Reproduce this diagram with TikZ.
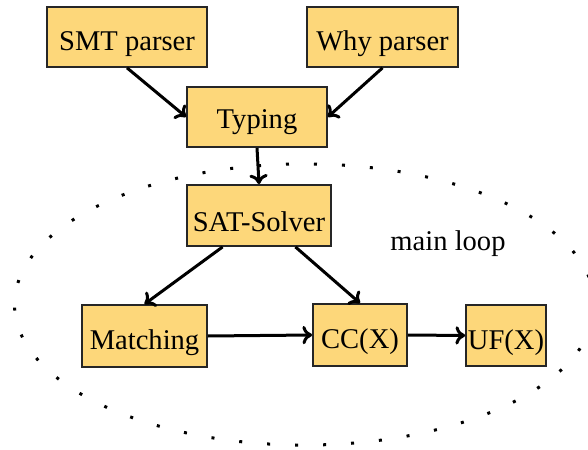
\documentclass[tikz,border=0pt]{standalone}
\usepackage{fontspec}
\setmainfont{Liberation Serif}
\usetikzlibrary{calc,arrows.meta}
\definecolor{boxfill}{RGB}{253,215,122}
\tikzset{
  blk/.style={draw=black!85, line width=0.6pt, fill=boxfill, inner sep=0pt,
    text height=9.6pt, text depth=0pt, font=\fontsize{10}{12}\selectfont},
  conn/.style={-{To[length=3.4pt, width=6.4pt]}, line width=1.05pt},
  loopline/.style={line width=1.05pt, dash pattern=on 1.05pt off 8.75pt}
}
\begin{document}
\begin{tikzpicture}[x=0.35pt, y=-0.35pt]
\useasboundingbox (0,0) rectangle (588,450);
\begin{scope}
\clip (0,0) rectangle (588,450);
\draw[loopline] (304.5,304.5) ellipse [x radius=101.5pt, y radius=49.2pt];
\end{scope}
\node[blk, minimum width=56pt, minimum height=21pt] (smt) at (127,37) {SMT parser};
\node[blk, minimum width=52.8pt, minimum height=21pt] (why) at (382.5,37) {Why parser};
\node[blk, minimum width=49pt, minimum height=21pt, text height=8pt] (typ) at (257,117) {Typing};
\node[blk, minimum width=50.4pt, minimum height=21.4pt, text height=11pt] (sat) at (259,215.5) {SAT-Solver};
\node[blk, minimum width=43.8pt, minimum height=21.7pt] (mat) at (144.5,336) {Matching};
\node[blk, minimum width=32.9pt, minimum height=21.7pt] (cc) at (360,335) {CC(X)};
\node[blk, minimum width=28pt, minimum height=21.4pt] (uf) at (506,335.5) {UF(X)};
\node[font=\fontsize{10}{12}\selectfont, inner sep=0pt] (ml) at (448,244) {main loop};
\draw[conn] (smt.south) -- (typ.west);
\draw[conn] (why.south) -- (typ.east);
\draw[conn] (typ.south) -- (sat.north);
\draw[conn] ($(sat.south west)!0.25!(sat.south east)$) -- (mat.north);
\draw[conn] ($(sat.south west)!0.75!(sat.south east)$) -- (cc.north);
\draw[conn] (mat.east) -- (cc.west);
\draw[conn] (cc.east) -- (uf.west);
\end{tikzpicture}
\end{document}
